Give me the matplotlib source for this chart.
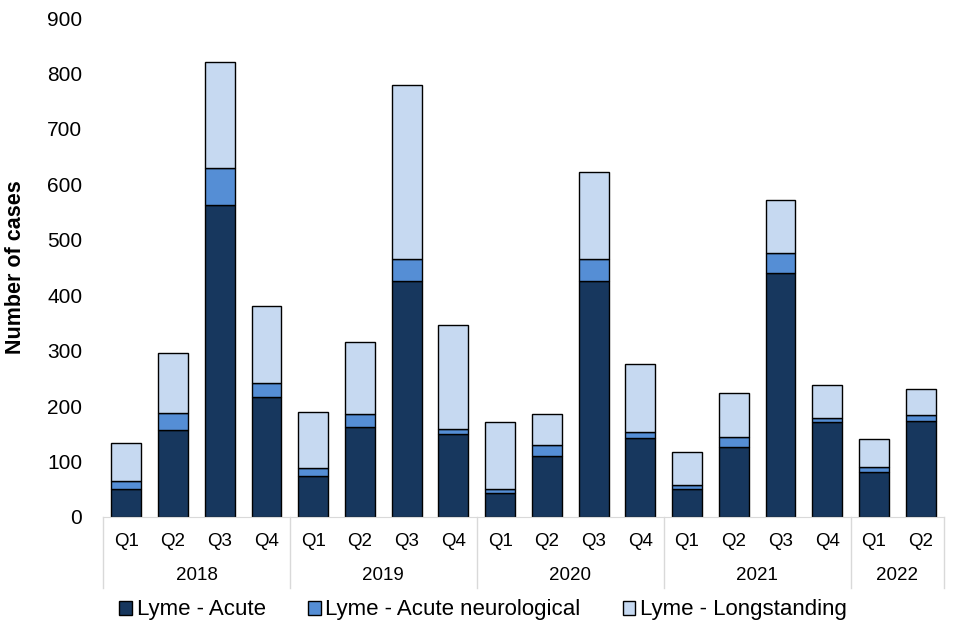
import numpy as np
import matplotlib.pyplot as plt

plt.rcParams['font.family'] = ['Liberation Sans', 'DejaVu Sans']

# Data
quarters = ["Q1", "Q2", "Q3", "Q4"] * 4 + ["Q1", "Q2"]
years = ["2018", "2019", "2020", "2021", "2022"]
year_counts = [4, 4, 4, 4, 2]

acute = [51, 157, 562, 216, 74, 163, 426, 149, 44, 110, 425, 143, 51, 127, 440, 172, 82, 174]
acute_neuro = [14, 31, 68, 25, 14, 23, 39, 9, 7, 20, 41, 11, 6, 18, 37, 7, 8, 10]
longstanding = [68, 108, 190, 140, 102, 129, 314, 189, 121, 56, 157, 122, 61, 78, 94, 59, 50, 46]

series_names = ["Lyme - Acute", "Lyme - Acute neurological", "Lyme - Longstanding"]
colors = ["#17375E", "#558ED5", "#C6D9F1"]

fig = plt.figure(figsize=(9.6, 6.4), dpi=100)
ax = fig.add_axes([103/960, 1 - 517/640, (944 - 103)/960, (517 - 18)/640])

x = np.arange(len(quarters))
acute = np.array(acute)
acute_neuro = np.array(acute_neuro)
longstanding = np.array(longstanding)

w = 0.64
ax.bar(x, acute, w, color=colors[0], edgecolor="black", linewidth=1, label=series_names[0])
ax.bar(x, acute_neuro, w, bottom=acute, color=colors[1], edgecolor="black", linewidth=1,
       label=series_names[1])
ax.bar(x, longstanding, w, bottom=acute + acute_neuro, color=colors[2], edgecolor="black",
       linewidth=1, label=series_names[2])

ax.set_xlim(-0.5, len(quarters) - 0.5)
ax.set_ylim(0, 900)
ax.set_yticks(range(0, 901, 100))
ax.tick_params(axis="y", length=0, labelsize=15, pad=15)
ax.set_xticks([])

for s in ["top", "right", "left"]:
    ax.spines[s].set_visible(False)
ax.spines["bottom"].set_color("#D9D9D9")

fig.text(16/960, 1 - 267/640, "Number of cases", rotation=90, ha="center", va="center",
         fontsize=15.5, fontweight="bold")

# Quarter labels, year group labels and separators
trans = ax.get_xaxis_transform()
for xi, q in zip(x, quarters):
    ax.text(xi, -0.050, q, transform=trans, ha="center", va="center", fontsize=13.5)
start = 0
bounds = [-0.5]
for yr, n in zip(years, year_counts):
    mid = start + (n - 1) / 2
    ax.text(mid, -0.117, yr, transform=trans, ha="center", va="center", fontsize=13.5)
    start += n
    bounds.append(start - 0.5)
for b in bounds:
    ax.plot([b, b], [0, -0.142], transform=trans, color="#D9D9D9", linewidth=1, clip_on=False)

fig.legend(loc="center", bbox_to_anchor=(483/960, 1 - 610/640), ncol=3, frameon=False,
           fontsize=16, handlelength=0.58, handleheight=0.58, handletextpad=0.2,
           columnspacing=1.9, borderpad=0)

fig.savefig("out.png", dpi=100)
